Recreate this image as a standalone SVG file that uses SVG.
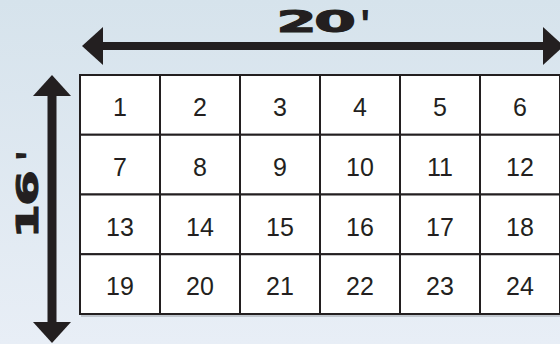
<svg xmlns="http://www.w3.org/2000/svg" width="560" height="344" viewBox="0 0 560 344">
  <defs>
    <linearGradient id="bg" x1="0" y1="0" x2="0" y2="1">
      <stop offset="0" stop-color="#d6e3ec"/>
      <stop offset="1" stop-color="#e8eef6"/>
    </linearGradient>
    <marker id="ah" viewBox="0 0 20 38" refX="0" refY="19" markerWidth="20" markerHeight="38" markerUnits="userSpaceOnUse" orient="auto-start-reverse" style="overflow:visible">
      <path d="M-1,0 L20,19 L-1,38 Z" fill="#231f20"/>
    </marker>
    <style>
      .cell rect { fill: #ffffff; stroke: #231f20; stroke-width: 2; }
      .cell text { font-family: "Liberation Sans", Arial, sans-serif; font-size: 25px; fill: #231f20; text-anchor: middle; }
      .dim { stroke: #231f20; fill: none; marker-start: url(#ah); marker-end: url(#ah); }
      .dimlabel { font-family: "DejaVu Sans", "Liberation Sans", sans-serif; font-weight: bold; font-size: 31px; fill: #231f20; stroke: #231f20; stroke-width: 1; }
      .apos { font-family: "Liberation Sans", sans-serif; font-size: 40px; stroke-width: 0; }
    </style>
  </defs>
  <rect x="0" y="0" width="560" height="344" fill="url(#bg)"/>
  <rect x="81" y="77" width="481" height="240" fill="#9aa0a6" opacity="0.5"/>
  <g id="grid">
    <g id="cell-1" class="cell"><rect x="80" y="75" width="80" height="59.75"/><text x="120" y="116">1</text></g>
    <g id="cell-2" class="cell"><rect x="160" y="75" width="80" height="59.75"/><text x="200" y="116">2</text></g>
    <g id="cell-3" class="cell"><rect x="240" y="75" width="80" height="59.75"/><text x="280" y="116">3</text></g>
    <g id="cell-4" class="cell"><rect x="320" y="75" width="80" height="59.75"/><text x="360" y="116">4</text></g>
    <g id="cell-5" class="cell"><rect x="400" y="75" width="80" height="59.75"/><text x="440" y="116">5</text></g>
    <g id="cell-6" class="cell"><rect x="480" y="75" width="80" height="59.75"/><text x="520" y="116">6</text></g>
    <g id="cell-7" class="cell"><rect x="80" y="134.75" width="80" height="59.75"/><text x="120" y="175.75">7</text></g>
    <g id="cell-8" class="cell"><rect x="160" y="134.75" width="80" height="59.75"/><text x="200" y="175.75">8</text></g>
    <g id="cell-9" class="cell"><rect x="240" y="134.75" width="80" height="59.75"/><text x="280" y="175.75">9</text></g>
    <g id="cell-10" class="cell"><rect x="320" y="134.75" width="80" height="59.75"/><text x="360" y="175.75">10</text></g>
    <g id="cell-11" class="cell"><rect x="400" y="134.75" width="80" height="59.75"/><text x="440" y="175.75">11</text></g>
    <g id="cell-12" class="cell"><rect x="480" y="134.75" width="80" height="59.75"/><text x="520" y="175.75">12</text></g>
    <g id="cell-13" class="cell"><rect x="80" y="194.5" width="80" height="59.75"/><text x="120" y="235.5">13</text></g>
    <g id="cell-14" class="cell"><rect x="160" y="194.5" width="80" height="59.75"/><text x="200" y="235.5">14</text></g>
    <g id="cell-15" class="cell"><rect x="240" y="194.5" width="80" height="59.75"/><text x="280" y="235.5">15</text></g>
    <g id="cell-16" class="cell"><rect x="320" y="194.5" width="80" height="59.75"/><text x="360" y="235.5">16</text></g>
    <g id="cell-17" class="cell"><rect x="400" y="194.5" width="80" height="59.75"/><text x="440" y="235.5">17</text></g>
    <g id="cell-18" class="cell"><rect x="480" y="194.5" width="80" height="59.75"/><text x="520" y="235.5">18</text></g>
    <g id="cell-19" class="cell"><rect x="80" y="254.25" width="80" height="59.75"/><text x="120" y="295.25">19</text></g>
    <g id="cell-20" class="cell"><rect x="160" y="254.25" width="80" height="59.75"/><text x="200" y="295.25">20</text></g>
    <g id="cell-21" class="cell"><rect x="240" y="254.25" width="80" height="59.75"/><text x="280" y="295.25">21</text></g>
    <g id="cell-22" class="cell"><rect x="320" y="254.25" width="80" height="59.75"/><text x="360" y="295.25">22</text></g>
    <g id="cell-23" class="cell"><rect x="400" y="254.25" width="80" height="59.75"/><text x="440" y="295.25">23</text></g>
    <g id="cell-24" class="cell"><rect x="480" y="254.25" width="80" height="59.75"/><text x="520" y="295.25">24</text></g>
  </g>
  <g id="connectors">
    <path id="dim-width" class="dim" stroke-width="8" d="M102,46 L544,46"/>
    <path id="dim-height" class="dim" stroke-width="9" d="M52,95 L52,323"/>
  </g>
  <g id="labels">
    <text id="label-width" class="dimlabel" y="32"><tspan x="276.2" textLength="40.6" lengthAdjust="spacingAndGlyphs">2</tspan><tspan x="314.1" textLength="42.1" lengthAdjust="spacingAndGlyphs">0</tspan><tspan class="apos" x="360.5" y="37.6">'</tspan></text>
    <text id="label-height" class="dimlabel" transform="translate(38,234) rotate(-90)" y="0"><tspan x="-4.6" textLength="34.6" lengthAdjust="spacingAndGlyphs">1</tspan><tspan x="28" textLength="35.9" lengthAdjust="spacingAndGlyphs">6</tspan><tspan class="apos" x="73.5" y="5.6">'</tspan></text>
  </g>
</svg>
